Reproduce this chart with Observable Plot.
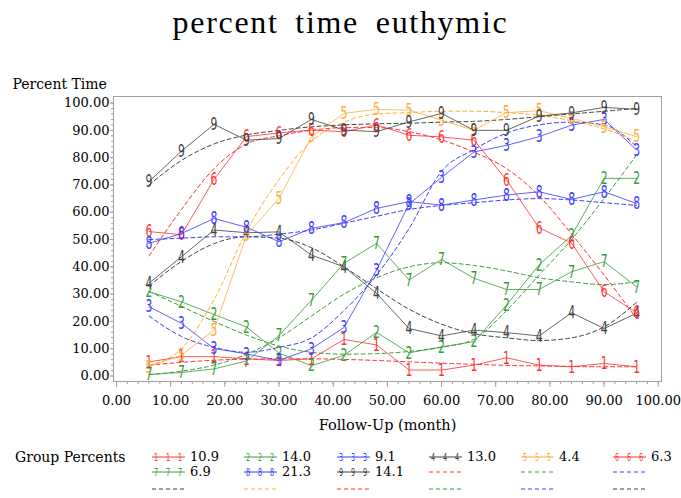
<!DOCTYPE html>
<html><head><meta charset="utf-8">
<script src="https://cdn.jsdelivr.net/npm/d3@7"></script>
<script src="https://cdn.jsdelivr.net/npm/@observablehq/plot@0.6"></script>
<style>
body{margin:0;background:#fff;width:681px;height:498px;overflow:hidden;position:relative;font-family:"DejaVu Serif",serif;color:#000}
#title{position:absolute;left:0;top:5px;width:681px;text-align:center;font-family:"Liberation Serif",serif;font-size:32px;letter-spacing:1.7px;word-spacing:7px;line-height:34px}
#chart{position:absolute;left:0;top:62px}
#legend{position:absolute;left:0;top:440px;width:681px;height:58px;font-size:13px}
#legend .it{position:absolute;white-space:nowrap;line-height:16px}
#legend .lab{font-size:14px}
#legend svg{position:absolute;overflow:visible}
</style></head><body>
<div id="title">percent time euthymic</div>
<div id="chart"></div>
<div id="legend"></div>
<script>
const months = [6,12,18,24,30,36,42,48,54,60,66,72,78,84,90,96];
const groups = ["1","2","3","4","5","6","7","8","9"];
const groupPercents = ["10.9","14.0","9.1","13.0","4.4","6.3","6.9","21.3","14.1"];
const groupColors = ["#ff3030","#3a9a3a","#3a3aff","#404040","#ffac33","#ff3030","#3a9a3a","#3a3aff","#404040"];

const obs1 = [5.2,7.1,7.1,6.3,5.7,6.3,13.4,11.4,2.2,2.2,4.0,6.7,4.0,3.4,4.6,3.4];
const obs2 = [30.9,27.2,22.5,18.0,8.4,3.8,7.6,16.0,8.5,10.7,12.6,26.0,40.7,51.5,72.4,72.4];
const obs3 = [25.4,19.3,10.1,8.1,5.7,10.0,17.8,38.8,63.0,72.8,82.1,84.5,87.7,91.9,94.0,82.8];
const obs4 = [34.0,43.7,53.5,52.5,52.8,44.3,40.0,30.3,17.4,14.7,16.8,15.9,14.7,23.2,17.4,23.0];
const obs5 = [3.4,7.7,16.8,51.5,65.1,87.7,96.2,97.7,97.4,93.7,90.0,96.5,97.2,94.4,91.3,87.7];
const obs6 = [52.9,51.8,72.0,87.7,89.1,90.1,89.5,92.0,88.2,87.6,86.4,71.8,54.3,48.7,30.9,23.2];
const obs7 = [0.6,1.3,2.6,5.5,14.8,27.8,41.3,48.6,35.2,42.7,35.8,31.7,31.7,38.2,41.9,32.7];
const obs8 = [48.6,52.2,57.7,54.5,49.2,54.1,56.2,61.4,63.9,62.6,64.5,66.3,67.5,64.7,67.5,63.2];
const obs9 = [71.2,82.4,92.2,86.4,87.0,94.0,90.1,89.5,93.1,96.2,90.0,90.0,95.2,96.4,98.4,97.7];

const pred1 = [4.0,5.0,5.8,6.2,6.3,6.3,6.1,5.7,5.2,4.7,4.3,3.9,3.7,3.5,3.4,3.4];
const pred2 = [31,25.5,20,15,11,8.7,8,8.2,9,10.5,13.5,24,37,50,65,81];
const pred3 = [22,14.5,10.5,8.7,10.5,14,24,37,54,75,83,89,92,93,92,84];
const pred4 = [33,42,48.5,51,50.5,47,40,32,24.5,19,15.5,14,13,14,18,27];
const pred5 = [4,10,28,53,72,86,93,96,96.5,97,97,96.5,95.5,93.5,90.5,86];
const pred6 = [44,61,76,85,88,90,91,91,89.5,86.5,82,76,66,52,37,21];
const pred7 = [0.5,1.8,4,8,14,22,30,36,40,41.5,40.5,38.5,36,34.5,33.5,34.5];
const pred8 = [50,50.5,51,51,52,53.5,56,58.5,61,62.5,63.5,64.5,65,64.5,63.5,62.5];
const pred9 = [70,79,85,88.3,90,91.3,92,92.4,92.6,93,93.3,94,95,96,97,98];

const xMajor = [0,10,20,30,40,50,60,70,80,90,100];
const yMajor = [0,10,20,30,40,50,60,70,80,90,100];

const observed = [obs1,obs2,obs3,obs4,obs5,obs6,obs7,obs8,obs9];
const predicted = [pred1,pred2,pred3,pred4,pred5,pred6,pred7,pred8,pred9];

const obsRows = [], predRows = [];
groups.forEach((g,i)=>{
  observed[i].forEach((v,j)=>obsRows.push({month:months[j], value:v, group:g}));
  predicted[i].forEach((v,j)=>predRows.push({month:months[j], value:v, group:g}));
});

const fmt = d3.format(".2f");
const colorScale = {type:"ordinal", domain: groups, range: groupColors};
const serif = "'DejaVu Serif', serif";
const digitFont = "'DejaVu Sans', sans-serif";

const chart = Plot.plot({
  width: 681,
  height: 378,
  marginLeft: 113,
  marginRight: 20,
  marginTop: 34,
  marginBottom: 59,
  style: {fontFamily: serif, fontSize: "13px", background: "#fff", color: "#000", overflow: "visible"},
  x: {domain: [-0.55, 100.6]},
  y: {domain: [-2, 102.4]},
  color: colorScale,
  marks: [
    Plot.axisX({ticks: d3.range(0,101,2), tickSize: 3, tickFormat: () => "", stroke: "#a0a0a0", label: null}),
    Plot.axisX({ticks: xMajor, tickSize: 6, tickPadding: 8, tickFormat: fmt, stroke: "#a0a0a0", fill: "#000", label: null}),
    Plot.axisY({ticks: d3.range(0,101,2), tickSize: 2, tickFormat: () => "", stroke: "#a0a0a0", label: null}),
    Plot.axisY({ticks: yMajor, tickSize: 3, tickPadding: 1, tickFormat: fmt, stroke: "#a0a0a0", fill: "#000", label: null}),
    Plot.frame({stroke: "#a0a0a0"}),
    Plot.line(predRows, {x: "month", y: "value", z: "group", stroke: "group", strokeWidth: 1, strokeDasharray: "4,3", curve: "monotone-x"}),
    Plot.line(obsRows, {x: "month", y: "value", z: "group", stroke: "group", strokeWidth: 1, strokeOpacity: 0.8}),
    Plot.text(obsRows, {x: "month", y: "value", text: "group", fill: "group", fontSize: 18, fontFamily: digitFont}),
    Plot.text(["Percent Time"], {frameAnchor: "top-left", dx: -101, dy: -17, textAnchor: "start", fontFamily: serif, fontSize: 14}),
    Plot.text(["Follow-Up (month)"], {frameAnchor: "bottom", dy: 48, fontFamily: serif, fontSize: 14.5})
  ]
});
document.getElementById("chart").appendChild(chart);

// narrow, tall marker digits (like SAS stroke font)
function squeeze(el, sx) {
  const tr = el.getAttribute("transform") || "";
  if (/translate/.test(tr)) {
    el.setAttribute("transform", tr + ` scale(${sx},1)`);
  } else {
    const x = +(el.getAttribute("x") || 0), y = +(el.getAttribute("y") || 0);
    el.removeAttribute("x"); el.removeAttribute("y");
    el.setAttribute("transform", `translate(${x},${y}) ${tr} scale(${sx},1)`);
  }
}
Array.from(chart.querySelectorAll("text")).filter(t => /^[1-9]$/.test(t.textContent.trim())).forEach(t => squeeze(t, 0.6));

// Legend
const legend = document.getElementById("legend");
const colX = [152, 244, 337, 429, 521, 613];
const rowY = [17, 32, 49];
const label = document.createElement("div");
label.className = "it lab";
label.style.left = "15px"; label.style.top = (rowY[0]-8) + "px";
label.textContent = "Group Percents";
legend.appendChild(label);
const items = [];
groups.forEach((g,i)=>items.push({kind:"obs", group:g, pct: groupPercents[i], color: groupColors[i]}));
groups.forEach((g,i)=>items.push({kind:"pred", group:g, pct: null, color: groupColors[i]}));
const ns = "http://www.w3.org/2000/svg";
items.forEach((it,k)=>{
  const r = Math.floor(k/6), c = k%6;
  const x = colX[c], y = rowY[r];
  const svg = document.createElementNS(ns,"svg");
  svg.setAttribute("width",34); svg.setAttribute("height",14);
  svg.style.left = x + "px"; svg.style.top = (y-7) + "px";
  const ln = document.createElementNS(ns,"line");
  ln.setAttribute("x1",0); ln.setAttribute("x2",33); ln.setAttribute("y1",7); ln.setAttribute("y2",7);
  ln.setAttribute("stroke", it.color); ln.setAttribute("stroke-width",1);
  if (it.kind === "pred") ln.setAttribute("stroke-dasharray","4,3");
  svg.appendChild(ln);
  if (it.kind === "obs") {
    [4,16,28].forEach(px=>{
      const t = document.createElementNS(ns,"text");
      t.setAttribute("transform",`translate(${px},10.5) scale(0.65,1)`);
      t.setAttribute("text-anchor","middle");
      t.setAttribute("font-size","10");
      t.setAttribute("font-family", digitFont);
      t.setAttribute("fill", it.color);
      t.textContent = it.group;
      svg.appendChild(t);
    });
  }
  legend.appendChild(svg);
  if (it.pct !== null) {
    const d = document.createElement("div");
    d.className = "it";
    d.style.left = (x + 38) + "px"; d.style.top = (y-8) + "px";
    d.textContent = it.pct;
    legend.appendChild(d);
  }
});
</script>
</body></html>
